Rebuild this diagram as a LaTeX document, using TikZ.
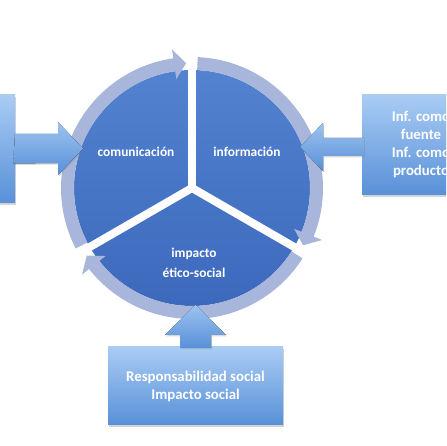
\documentclass[tikz,border=0pt]{standalone}
\usepackage{fontspec}
\setmainfont{Carlito}
\usetikzlibrary{shadows}
\definecolor{pietop}{HTML}{5282D0}
\definecolor{piebot}{HTML}{3D69BC}
\definecolor{ringc}{HTML}{A9B6DC}
\definecolor{boxtop}{HTML}{A9CCF4}
\definecolor{boxbot}{HTML}{5890D8}
\tikzset{
  blockbox/.style={top color=boxtop, bottom color=boxbot, draw=none,
    drop shadow={shadow xshift=1pt, shadow yshift=-2pt, opacity=0.35},
    text=white, font=\bfseries\fontsize{14.8}{18}\selectfont, align=center, inner sep=0pt},
  blockarrow/.style={top color=boxtop!85!boxbot, bottom color=boxbot, draw=none,
    drop shadow={shadow xshift=1pt, shadow yshift=-1.5pt, opacity=0.3}},
  ringseg/.style={fill=ringc},
  pielabel/.style={text=white, font=\bfseries\fontsize{13.4}{20}\selectfont, align=center, inner sep=0pt},
  gapline/.style={white, line width=8pt}
}
\begin{document}
\begin{tikzpicture}[x=1pt,y=1pt]
\useasboundingbox (0,0) rectangle (446,446);
\clip (0,0) rectangle (446,446);
\fill[white] (0,0) rectangle (446,446);
\coordinate (C) at (192,258);
% pie
\shade[top color=pietop, bottom color=piebot] (C) circle[radius=118pt];
\draw[gapline] (C) -- ++(90:122pt);
\draw[gapline] (C) -- ++(-30:122pt);
\draw[gapline] (C) -- ++(210:122pt);
% ring with arrowheads
\begin{scope}[shift={(C)}]
\fill[ringseg] (87.5:131pt) arc[start angle=87.5, end angle=-21.8, radius=131pt]
  -- (-21.8:140pt) -- (-27.3:125pt) -- (-21.8:110pt) -- (-21.8:118pt)
  arc[start angle=-21.8, end angle=87.5, radius=118pt] -- cycle;
\fill[ringseg] (-32.5:131pt) arc[start angle=-32.5, end angle=-141.8, radius=131pt]
  -- (-141.8:140pt) -- (-147.3:125pt) -- (-141.8:110pt) -- (-141.8:118pt)
  arc[start angle=-141.8, end angle=-32.5, radius=118pt] -- cycle;
\fill[ringseg] (-152.5:131pt) arc[start angle=-152.5, end angle=-261.8, radius=131pt]
  -- (-261.8:140pt) -- (-267.3:125pt) -- (-261.8:110pt) -- (-261.8:118pt)
  arc[start angle=-261.8, end angle=-152.5, radius=118pt] -- cycle;
\end{scope}
% pie labels
\node[pielabel] (com) at (136,294) {comunicación};
\node[pielabel] (inf) at (247,294) {información};
\node[pielabel] (imp) at (194,183) {impacto\\ético-social};
% boxes
\node[blockbox, minimum width=30pt, minimum height=108pt] (lbox) at (0,297) {};
\node[blockbox, minimum width=118pt, minimum height=100pt] (rbox) at (421,301)
  {Inf. como\\fuente\\Inf. como\\producto};
\node[blockbox, minimum width=175pt, minimum height=78pt] (bbox) at (195.5,60)
  {Responsabilidad social\\Impacto social};
% block arrows
\fill[blockarrow] (lbox.east) ++(-2,-14.5) -- (58,283) -- (58,271) -- (83,297.5)
  -- (58,324) -- (58,312) -- (15,312) -- cycle;
\fill[blockarrow] (rbox.west) ++(2,-11) -- (323,290) -- (323,275) -- (300,299)
  -- (323,323) -- (323,308) -- (364,308) -- cycle;
\fill[blockarrow] (bbox.north) ++(-15.5,-1) -- (180,111) -- (165,111) -- (195.5,141)
  -- (226,111) -- (211,111) -- (211,98) -- cycle;
\end{tikzpicture}
\end{document}
